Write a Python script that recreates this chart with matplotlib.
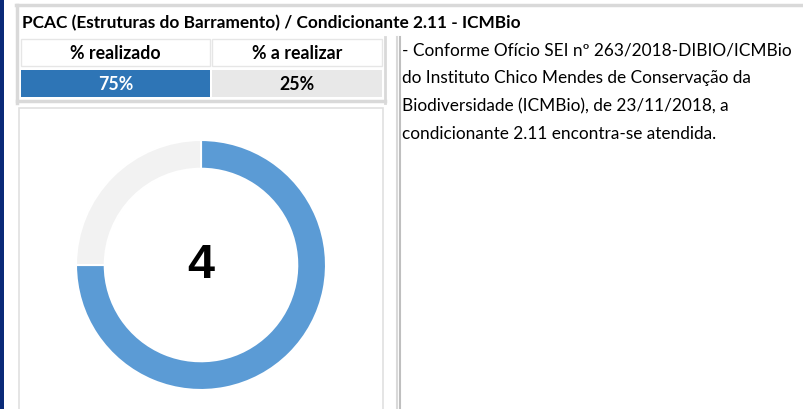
import matplotlib
matplotlib.use("Agg")
import matplotlib.pyplot as plt
from matplotlib.patches import Rectangle

# data
title = "PCAC (Estruturas do Barramento) / Condicionante 2.11 - ICMBio"
col_labels = ["% realizado", "% a realizar"]
shares = [75, 25]
indicator = "4"
note_lines = [
    "- Conforme Ofício SEI nº 263/2018-DIBIO/ICMBio",
    "do Instituto Chico Mendes de Conservação da",
    "Biodiversidade (ICMBio), de 23/11/2018, a",
    "condicionante 2.11 encontra-se atendida.",
]

W, H = 804, 410
fig = plt.figure(figsize=(W / 100, H / 100), dpi=100)
fig.patch.set_facecolor("white")

# overlay axes in pixel coordinates (y down)
bg = fig.add_axes([0, 0, 1, 1])
bg.set_xlim(0, W)
bg.set_ylim(H, 0)
bg.axis("off")

grid = "#d9d9d9"

def box(x0, y0, x1, y1, fc="none", ec=grid, lw=1.2):
    bg.add_patch(Rectangle((x0, y0), x1 - x0, y1 - y0, facecolor=fc,
                           edgecolor=ec, linewidth=lw))

# navy strip on the left
box(0, 0, 4, H, fc="#0a2a78", ec="none")

# frame lines
bg.plot([16, W], [6, 6], color=grid, lw=2.5)
bg.plot([17, 17], [6, 104], color=grid, lw=2.5)
bg.plot([17, 385], [102, 102], color=grid, lw=2.5)
bg.plot([385, 385], [38, 104], color=grid, lw=2)
bg.plot([397, 397], [38, H], color=grid, lw=1.5)
bg.plot([400, 400], [38, H], color="#bfbfbf", lw=1.5)

bg.text(22, 23, title, fontsize=12.4, fontweight="bold", family="Lato",
        va="center", ha="left", color="black")

# small table
cells = [(21, 210), (212, 382)]
fills = ["#2e75b6", "#e8e8e8"]
txt_col = ["white", "black"]
for (x0, x1), lab, v, fc, tc in zip(cells, col_labels, shares, fills, txt_col):
    box(x0, 40, x1, 67, fc="white", ec="#e6e6e6", lw=1)
    bg.text((x0 + x1) / 2, 53.5, lab, fontsize=12.8, fontweight="bold",
            family="Lato", ha="center", va="center")
    box(x0, 71, x1, 98, fc=fc, ec="none")
    bg.text((x0 + x1) / 2, 85, f"{v}%", fontsize=12.8, fontweight="bold",
            family="Lato", ha="center", va="center", color=tc)

# donut panel
box(19, 109, 383, H + 5, fc="white", ec="#e0e0e0", lw=1.2)

pie_ax = fig.add_axes([(201 - 125) / W, 1 - (266 + 125) / H, 250 / W, 250 / H])
pie_ax.pie(shares, colors=["#5b9bd5", "#f2f2f2"], startangle=90,
           counterclock=False, radius=1,
           wedgeprops=dict(width=0.23, edgecolor="white", linewidth=1.5))
pie_ax.set_xlim(-1, 1)
pie_ax.set_ylim(-1, 1)
pie_ax.set_aspect("equal")
pie_ax.text(0, 0, indicator, fontsize=35, fontweight="bold",
            family="Liberation Sans", ha="center", va="center")

# note text
for i, line in enumerate(note_lines):
    bg.text(402, 50 + 28 * i, line, fontsize=12.4, family="Lato",
            ha="left", va="center", color="black")

plt.savefig("out.png", dpi=100)
